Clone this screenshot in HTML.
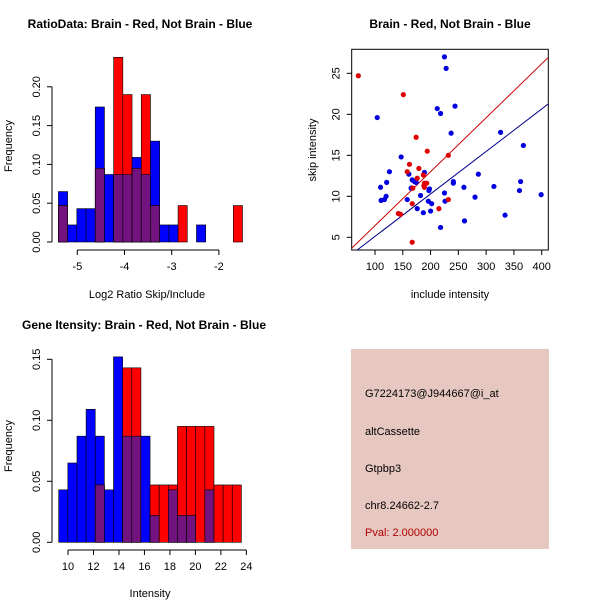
<!DOCTYPE html>
<html><head><meta charset="utf-8"><style>
body{margin:0;background:#fff}
svg{display:block;font-family:"Liberation Sans",sans-serif}
</style></head><body>
<svg id="chart" width="600" height="600" viewBox="0 0 600 600" xmlns="http://www.w3.org/2000/svg">
<rect width="600" height="600" fill="#fff"/>
<g id="tl"></g>
<g id="tr"></g>
<g id="bl"></g>
<g>
<rect x="351" y="349" width="198" height="200" fill="#e6c8c0"/>
<g font-size="11" fill="#000">
<text x="365" y="397">G7224173@J944667@i_at</text>
<text x="365" y="435">altCassette</text>
<text x="365" y="472">Gtpbp3</text>
<text x="365" y="509">chr8.24662-2.7</text>
<text x="365" y="536" fill="#b00000">Pval: 2.000000</text>
</g></g>
</svg>
<script>
// ---- data: ratio histogram (bins of width ~0.195 starting at -5.4)
const ratioBinStart = -5.4;
const ratioBinWidth = 0.195;
const ratioBlue = [0.065,0.022,0.043,0.043,0.174,0.087,0.087,0.087,0.109,0.087,0.130,0.022,0.022,0,0,0.022,0,0,0,0];
const ratioRed  = [0.047,0,0,0,0.095,0,0.238,0.190,0.095,0.190,0.047,0,0,0.047,0,0,0,0,0,0.047];
const ratioXTicks = [-5,-4,-3,-2];
const ratioYTicks = ["0.00","0.05","0.10","0.15","0.20"];
// ---- data: gene intensity histogram
const intBinStart = 9.27;
const intBinWidth = 0.717;
const intBlue = [0.043,0.065,0.087,0.109,0.087,0.043,0.152,0.087,0.087,0.087,0.022,0,0.043,0.022,0.022,0,0.043,0,0,0];
const intRed  = [0,0,0,0,0.047,0,0,0.143,0.143,0,0.047,0.047,0.047,0.095,0.095,0.095,0.095,0.047,0.047,0.047];
const intXTicks = [10,12,14,16,18,20,22,24];
const intYTicks = ["0.00","0.05","0.10","0.15"];
// ---- data: scatter
const redX = [70,151,174,194,232,162,179,158,176,187,189,193,189,168,167,232,215,142,146,167,188];
const redY = [24.7,22.4,17.2,15.5,15.0,13.9,13.4,13.0,12.2,12.6,11.6,11.6,11.1,11.0,9.1,9.6,8.5,7.9,7.8,4.4,11.3];
const blueX = [225,228,244,212,218,104,237,326,367,147,126,161,189,167,171,174,121,110,241,241,286,260,314,362,360,399,165,198,197,182,225,120,111,117,158,196,202,226,280,176,187,200,261,334,218];
const blueY = [27.0,25.6,21.0,20.7,20.1,19.6,17.7,17.8,16.2,14.8,13.0,12.7,12.9,12.0,11.8,11.7,11.7,11.1,11.8,11.6,12.7,11.1,11.2,11.8,10.7,10.2,11.0,10.9,10.7,10.1,10.4,10.0,9.5,9.6,9.6,9.4,9.1,9.4,9.9,8.5,8.0,8.2,7.0,7.7,6.2];
const redFit = [-0.16, 0.0658];
const blueFit = [-0.07, 0.0518];
const scatXTicks = [100,150,200,250,300,350,400];
const scatYTicks = [5,10,15,20,25];

const NS="http://www.w3.org/2000/svg";
function mk(parent,tag,attrs){const e=document.createElementNS(NS,tag);for(const k in attrs)e.setAttribute(k,attrs[k]);parent.appendChild(e);return e;}
function txt(parent,x,y,s,attrs){const t=mk(parent,'text',Object.assign({x:x,y:y,'font-size':11,'text-anchor':'middle'},attrs||{}));t.textContent=s;return t;}
const PURPLE="#73137f";

function histogram(g,opt){
  const xs=v=>opt.x0px+(v-opt.x0)*opt.pxPerX;
  const ys=v=>opt.y0px-v*opt.pxPerY;
  for(let i=0;i<opt.blue.length;i++){
    const a=opt.binStart+i*opt.binWidth,b=a+opt.binWidth;
    const x1=xs(a),x2=xs(b);
    const bl=opt.blue[i],rd=opt.red[i];
    if(bl>0){const r=mk(g,'rect',{x:x1,y:ys(bl),width:x2-x1,height:ys(0)-ys(bl),fill:'#0000ff',stroke:'#000','stroke-width':0.6});
      
      }
    if(rd>0){const r=mk(g,'rect',{x:x1,y:ys(rd),width:x2-x1,height:ys(0)-ys(rd),fill:'#ff0000',stroke:'#000','stroke-width':0.6});
      
      }
    if(bl>0&&rd>0){const m=Math.min(bl,rd);const r=mk(g,'rect',{x:x1,y:ys(m),width:x2-x1,height:ys(0)-ys(m),fill:PURPLE,stroke:'#000','stroke-width':0.6});
      
      }
  }
  const xt=opt.xTicks, ay=opt.xAxisY;
  const xa=mk(g,'g',{});
  
  
  mk(xa,'line',{x1:xs(xt[0]),x2:xs(xt[xt.length-1]),y1:ay,y2:ay,stroke:'#000'});
  xt.forEach(v=>{mk(xa,'line',{x1:xs(v),x2:xs(v),y1:ay,y2:ay+5,stroke:'#000'});txt(xa,xs(v),ay+20,String(v));});
  const ya=mk(g,'g',{});
  
  
  const yt=opt.yTicks;
  mk(ya,'line',{x1:opt.yAxisX,x2:opt.yAxisX,y1:ys(0),y2:ys(+yt[yt.length-1]),stroke:'#000'});
  yt.forEach(s=>{const y=ys(+s);mk(ya,'line',{x1:opt.yAxisX-5,x2:opt.yAxisX,y1:y,y2:y,stroke:'#000'});
    txt(ya,opt.yAxisX-12,y,s,{transform:`rotate(-90 ${opt.yAxisX-12} ${y})`});});
}

histogram(document.getElementById('tl'),{binStart:ratioBinStart,binWidth:ratioBinWidth,blue:ratioBlue,red:ratioRed,
  x0:-5,x0px:77.3,pxPerX:47.2,y0px:242,pxPerY:776,xTicks:ratioXTicks,yTicks:ratioYTicks,xAxisY:250,yAxisX:52});
histogram(document.getElementById('bl'),{binStart:intBinStart,binWidth:intBinWidth,blue:intBlue,red:intRed,
  x0:10,x0px:68,pxPerX:12.74,y0px:542.3,pxPerY:1220,xTicks:intXTicks,yTicks:intYTicks,xAxisY:550,yAxisX:52});

(function(){
  const s=document.getElementById('chart');
  let t=txt(s,140,28,'RatioData: Brain - Red, Not Brain - Blue',{'font-weight':'bold','font-size':12});
  
  t=txt(s,147,298,'Log2 Ratio Skip/Include');
  
  t=txt(s,12,146,'Frequency',{transform:'rotate(-90 12 146)'});
  
  t=txt(s,144,329,'Gene Itensity: Brain - Red, Not Brain - Blue',{'font-weight':'bold','font-size':12});
  
  t=txt(s,150,597,'Intensity');
  
  t=txt(s,12,446,'Frequency',{transform:'rotate(-90 12 446)'});
  
  t=txt(s,450,28,'Brain - Red, Not Brain - Blue',{'font-weight':'bold','font-size':12});
  
  t=txt(s,450,298,'include intensity');
  
  t=txt(s,316,150,'skip intensity',{transform:'rotate(-90 316 150)'});
  
})();

(function(){
  const g=document.getElementById('tr');
  const L=351.7,R=548.3,T=49.3,B=250;
  const xs=v=>375+(v-100)*0.5557;
  const ys=v=>237.3-(v-5)*8.2;
  mk(g,'clipPath',{id:'clip'});
  mk(g.lastChild,'rect',{x:L,y:T,width:R-L,height:B-T});
  const box=mk(g,'rect',{x:L,y:T,width:R-L,height:B-T,fill:'none',stroke:'#000'});
  
  [[redFit,'#cc0000','red-fit-line'],[blueFit,'#00008b','blue-fit-line']].forEach(([f,c,n])=>{
    const x1=40,x2=420;
    const l=mk(g,'line',{x1:xs(x1),y1:ys(f[0]+f[1]*x1),x2:xs(x2),y2:ys(f[0]+f[1]*x2),stroke:c,'clip-path':'url(#clip)'});
    
  });
  blueX.forEach((x,i)=>{const c=mk(g,'circle',{cx:xs(x),cy:ys(blueY[i]),r:2.6,fill:'#0000e0'});
    });
  redX.forEach((x,i)=>{const c=mk(g,'circle',{cx:xs(x),cy:ys(redY[i]),r:2.6,fill:'#e00000'});
    });
  const xa=mk(g,'g',{});
  scatXTicks.forEach(v=>{mk(xa,'line',{x1:xs(v),x2:xs(v),y1:B,y2:B+5,stroke:'#000'});txt(xa,xs(v),B+20,String(v));});
  const ya=mk(g,'g',{});
  scatYTicks.forEach(v=>{const y=ys(v);mk(ya,'line',{x1:L-5,x2:L,y1:y,y2:y,stroke:'#000'});
    txt(ya,L-12,y,String(v),{transform:`rotate(-90 ${L-12} ${y})`});});
})();
</script>
</body></html>
